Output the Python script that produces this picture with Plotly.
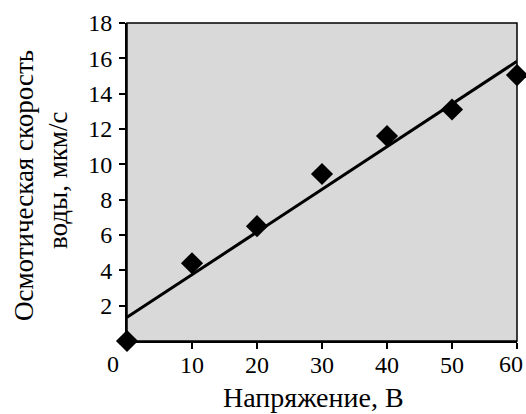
import numpy as np
import plotly.graph_objects as go

voltage = [0, 10, 20, 30, 40, 50, 60]
speed = [0.0, 4.4, 6.5, 9.45, 11.6, 13.1, 15.05]
y_ticks = [2, 4, 6, 8, 10, 12, 14, 16, 18]
x_ticks = [10, 20, 30, 40, 50, 60]
x_tick_labels = ["10", "20", "30", "40", "50", ""]
x_title = "Напряжение, В"
y_title_1 = "Осмотическая скорость"
y_title_2 = "воды, мкм/с"

slope, intercept = np.polyfit(voltage, speed, 1)
trend_x = [min(voltage), max(voltage)]
trend_y = [intercept + slope * v for v in trend_x]

FONT = "Liberation Serif"

fig = go.Figure()
fig.add_trace(go.Scatter(x=trend_x, y=trend_y, mode="lines",
                         line=dict(color="black", width=3), cliponaxis=False,
                         hoverinfo="skip"))
fig.add_trace(go.Scatter(x=voltage, y=speed, mode="markers",
                         marker=dict(symbol="diamond", size=17, color="black"),
                         cliponaxis=False))

W, H = 526, 414
L, R, T, B = 127, 9, 23, 73
pw = W - L - R
ph = H - T - B


def px(xp):
    return (xp - L) / pw


def py(yp):
    return (T + ph - yp) / ph


fig.update_layout(
    width=W, height=H,
    margin=dict(l=L, r=R, t=T, b=B),
    paper_bgcolor="white",
    plot_bgcolor="#d9d9d9",
    showlegend=False,
    font=dict(family=FONT, color="black", size=24),
    xaxis=dict(range=[0, 60], tickvals=x_ticks, ticktext=x_tick_labels,
               showgrid=False, zeroline=False,
               showline=True, linecolor="black", linewidth=2,
               ticks="outside", ticklen=6, tickwidth=2, tickcolor="black",
               ticklabelstandoff=-5, automargin=False,
               tickfont=dict(family=FONT, size=24)),
    yaxis=dict(range=[0, 18], tickvals=y_ticks, showgrid=False, zeroline=False,
               showline=True, linecolor="black", linewidth=2,
               ticks="outside", ticklen=6, tickwidth=2, tickcolor="black",
               ticklabelstandoff=2, automargin=False,
               tickfont=dict(family=FONT, size=24)),
    shapes=[dict(type="rect", xref="paper", yref="paper", x0=0, x1=1, y0=0, y1=1,
                 line=dict(color="black", width=1.5), layer="above")],
    annotations=[
        dict(text="0", xref="paper", yref="paper", x=px(113), y=py(364),
             showarrow=False, xanchor="center", yanchor="middle",
             font=dict(family=FONT, size=24)),
        dict(text="60", xref="paper", yref="paper", x=px(525), y=py(364),
             showarrow=False, xanchor="right", yanchor="middle",
             font=dict(family=FONT, size=24)),
        dict(text=x_title, xref="paper", yref="paper", x=px(313), y=py(397),
             showarrow=False, xanchor="center", yanchor="middle",
             font=dict(family=FONT, size=28)),
        dict(text=y_title_1, xref="paper", yref="paper", x=px(24), y=py(186),
             showarrow=False, textangle=-90, xanchor="center", yanchor="middle",
             font=dict(family=FONT, size=27)),
        dict(text=y_title_2, xref="paper", yref="paper", x=px(58), y=py(181),
             showarrow=False, textangle=-90, xanchor="center", yanchor="middle",
             font=dict(family=FONT, size=27)),
    ],
)

fig.write_html("out.html", config={"displayModeBar": False},
               post_script="document.body.style.margin='0';")
